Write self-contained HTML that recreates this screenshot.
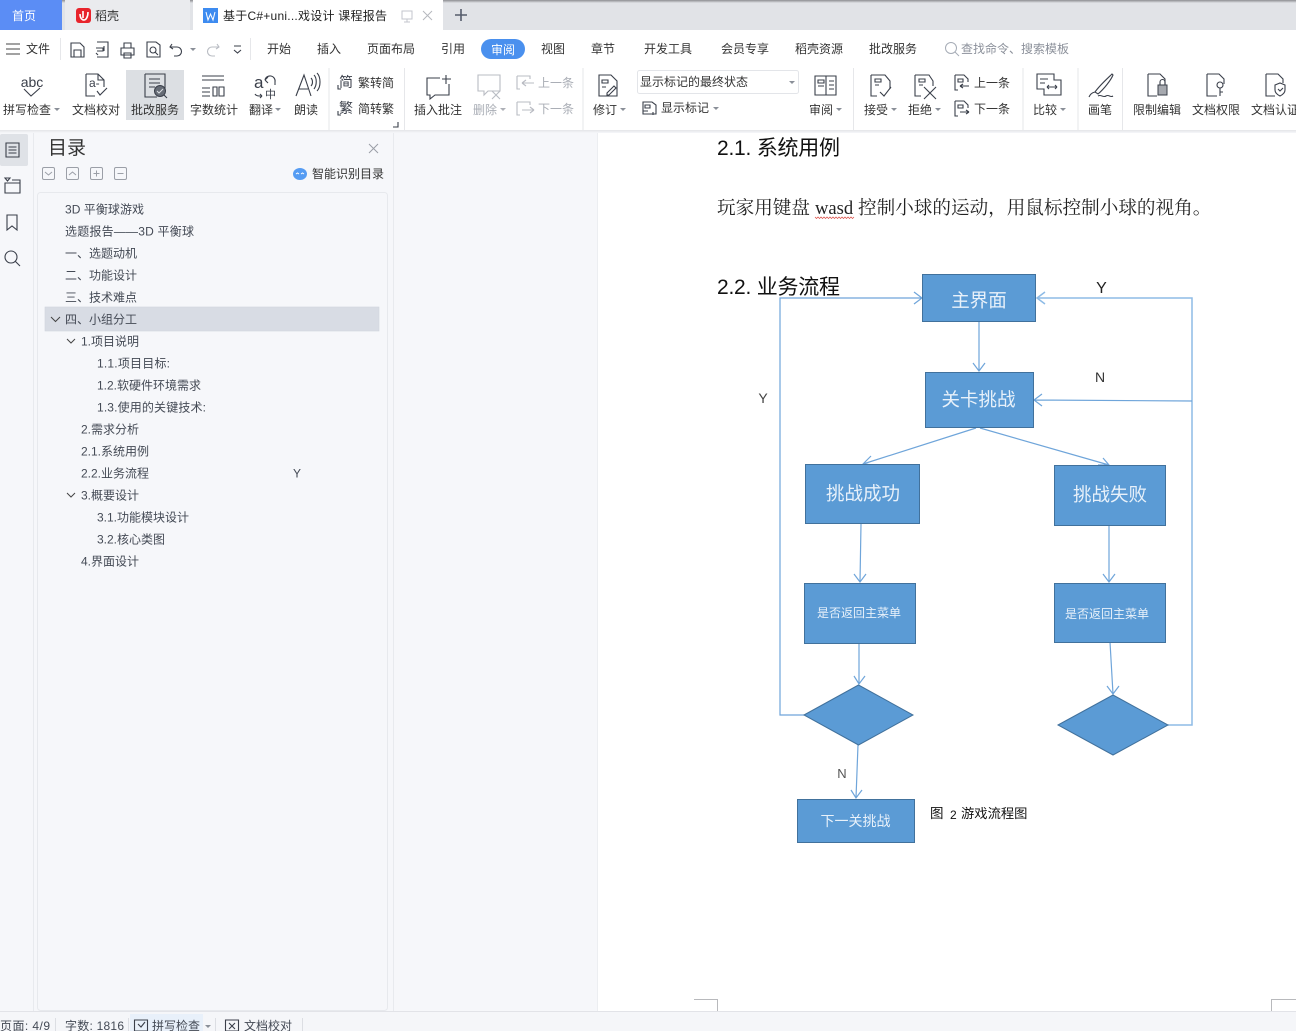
<!DOCTYPE html>
<html lang="zh"><head><meta charset="utf-8"><title>基于C#+unity游戏设计 课程报告</title>
<style>
html,body{margin:0;padding:0;width:1296px;height:1031px;overflow:hidden;background:#fff}
svg{display:block}
text{font-family:"Liberation Sans","Noto Sans CJK SC",sans-serif;font-size:12px;fill:#333}
.c{text-anchor:middle}
.g{fill:#a9adb5}
.i{fill:none;stroke:#3a3f4a;stroke-width:1.1}
.ig{fill:none;stroke:#b9bcc3;stroke-width:1.1}
.s{stroke:#e6e7ea;stroke-width:1}
.ca{fill:#8a8f98}
.toc{fill:#444a55}
.w{fill:#e8f1fa;font-size:20px}
.box{fill:#5b9bd5;stroke:#41719c;stroke-width:1}
.l{fill:none;stroke:#6fa5da;stroke-width:1.2}
.h{fill:#111;font-size:21px}
.b{fill:#222;font-family:"Noto Serif CJK SC","Liberation Serif",serif;font-size:18.6px}
</style></head><body>
<svg width="1296" height="1031" viewBox="0 0 1296 1031" xmlns="http://www.w3.org/2000/svg">
<defs>
<linearGradient id="top" x1="0" y1="0" x2="0" y2="1"><stop offset="0" stop-color="#8d8e92"/><stop offset="1" stop-color="#e1e3e7"/></linearGradient>
<linearGradient id="sh" x1="0" y1="0" x2="0" y2="1"><stop offset="0" stop-color="#e4e5e8"/><stop offset="1" stop-color="#f6f7fa"/></linearGradient>
</defs>
<!-- tab bar -->
<rect width="1296" height="30" fill="#e1e3e7"/>
<rect width="1296" height="3" fill="url(#top)"/>
<rect x="0" y="0" width="62" height="30" fill="#5b8df5"/>
<text x="12" y="20" fill="#fff" style="fill:#fff">首页</text>
<rect x="65" y="0" width="125" height="30" fill="#eaebee"/>
<rect x="76" y="8" width="15" height="15" rx="3" fill="#e8242c"/>
<path d="M83 11v7M80 14c0 4 2 6 4 6 2 0 4-3 4-8" fill="none" stroke="#fff" stroke-width="1.6"/>
<text x="95" y="20" fill="#555">稻壳</text>
<rect x="193" y="0" width="250" height="30" fill="#fff"/>
<rect x="203" y="8" width="15" height="15" fill="#3d8bf0"/>
<path d="M206 12l2 8 2.500-6 2.500 6 2-8" fill="none" stroke="#fff"/>
<text x="223" y="20" textLength="164" style="fill:#222">基于C#+uni...戏设计 课程报告</text>
<path d="M402 11h10v8h-10zM407 19v3M404 22h6" fill="none" stroke="#c3c6cc"/>
<path d="M423 11l9 9M432 11l-9 9" stroke="#b5b8be" fill="none"/>
<path d="M461 9v12M455 15h12" stroke="#555c6c" stroke-width="1.6" fill="none"/>
<!-- menu row -->
<rect y="30" width="1296" height="100" fill="#fff"/>
<path d="M6 44h14M6 49h14M6 54h14" stroke="#444" fill="none"/>
<text x="26" y="53">文件</text>
<path class="s" d="M60.500 38v22M250.500 38v22"/>
<path class="i" d="M71 43h9l4 4v10H71zM74 57v-7h7v7"/>
<path class="i" d="M97 42h11v15H97M96 48h7v3h-6M104 46v5M98 55l-2-2"/>
<path class="i" d="M121 48h13v7h-13zM124 48v-5h7v5M124 53h7v5h-7z"/>
<path class="i" d="M147 42h9l4 3v12h-13zM153 50m-3 0a3 3 0 1 0 6 0a3 3 0 1 0-6 0M155 52l3 3"/>
<path class="i" d="M172 44l-2 3 3 2M170 47h7a4 4 0 0 1 0 9h-3"/>
<path d="M190 48l3 3 3-3z" class="ca"/>
<path class="ig" d="M217 44l2 3-3 2M219 47h-7a4 4 0 0 0 0 9h3"/>
<path class="i" d="M234 46h7M234 50l3.500 3 3.500-3"/>
<text class="c" x="279" y="53">开始</text>
<text class="c" x="329" y="53">插入</text>
<text class="c" x="391" y="53">页面布局</text>
<text class="c" x="453" y="53">引用</text>
<rect x="481" y="39" width="44" height="20" rx="10" fill="#4a90ee"/>
<text class="c" x="503" y="54" style="fill:#fff">审阅</text>
<text class="c" x="553" y="53">视图</text>
<text class="c" x="603" y="53">章节</text>
<text class="c" x="668" y="53">开发工具</text>
<text class="c" x="745" y="53">会员专享</text>
<text class="c" x="819" y="53">稻壳资源</text>
<text class="c" x="893" y="53">批改服务</text>
<circle cx="951" cy="48" r="5.500" fill="none" stroke="#a6acb6"/><path d="M955 52l4 4" stroke="#a6acb6"/>
<text x="961" y="53" fill="#8b909a" style="fill:#8b909a">查找命令、搜索模板</text>
<!-- ribbon -->
<rect x="126" y="70" width="58" height="50" fill="#dcdfe3"/>
<path class="s" d="M329 68v62M404.500 68v62M583 68v62M853.500 68v62M1023 68v62M1078 68v62M1122.500 68v62"/>
<text class="c" x="32" y="87" style="font-size:14px;fill:#3a3f4a">abc</text>
<path class="i" d="M24 89l7 7 9-8"/>
<path class="i" d="M86 74h12l6 6v7M86 74v22h9M97 91l3 4 7-7M98 74v6h6"/>
<text x="89" y="87" style="font-size:12px;fill:#3a3f4a">a-</text>
<path class="i" d="M145 74h20v17M145 74v23h12M149 79h11M149 83h11M149 87h6"/>
<circle cx="160" cy="91" r="5.500" fill="#666c76" stroke="#3a3f4a"/><path d="M164 95l3 3" class="i"/><path d="M157 91l2 2 4-4" stroke="#dcdfe3" fill="none"/>
<path class="i" d="M202 76h22M202 80h22M202 88h8M202 92h8M202 96h8M213 87h4v9h-4zM219 87h5v9h-5z"/>
<text x="254" y="88" style="font-size:17px;fill:#3a3f4a">a</text>
<path class="i" d="M265 80a5 5 0 0 1 10 2v3M265 80l3-3M265 80l3 3M255 94c1 2 3 2 7 2M262 96l-2-2M262 96l-2 2"/>
<text x="265" y="98" style="font-size:11px;fill:#3a3f4a">中</text>
<path class="i" d="M296 96l8-21 7 21M299 89h9M311 78c2 2 2 6 0 8M314 75c3 3 3 10 0 14M317 73c4 4 4 14 0 18"/>
<text class="c" x="27" y="114">拼写检查</text><path class="ca" d="M54 108l3 3 3-3z"/>
<text class="c" x="96" y="114">文档校对</text>
<text class="c" x="155" y="114">批改服务</text>
<text class="c" x="214" y="114">字数统计</text>
<text class="c" x="261" y="114">翻译</text><path class="ca" d="M275 108l3 3 3-3z"/>
<text class="c" x="306" y="114">朗读</text>
<text x="339" y="87" style="font-size:14px;fill:#3a3f4a">简</text><path class="i" d="M338 85v4h3M338 111v4h3"/>
<text x="339" y="113" style="font-size:14px;fill:#3a3f4a">繁</text>
<text x="358" y="87" style="fill:#333">繁转简</text>
<text x="358" y="113" style="fill:#333">简转繁</text>
<path class="i" d="M393 127h5v-5" stroke-width=".8"/>
<path class="i" d="M440 78h-13v17h3v4l5-4h14V84M446 75v9M442 79h9"/>
<text class="c" x="438" y="114">插入批注</text>
<path class="ig" d="M478 75h22v16h-12l-4 4v-4h-6zM492 91l8 8M500 91l-8 8"/>
<text class="c" x="485" y="114" style="fill:#a9adb5">删除</text><path class="ca" d="M500 108l3 3 3-3z" opacity=".7"/>
<path class="ig" d="M517 76h13v3M517 76v13h3M534 83h-12M522 83l4-3M522 83l4 3"/>
<text x="538" y="87" style="fill:#a9adb5">上一条</text>
<path class="ig" d="M517 102h13v3M517 102v13h3M522 110h12M534 110l-4-3M534 110l-4 3"/>
<text x="538" y="113" style="fill:#a9adb5">下一条</text>
<path class="i" d="M599 75h12l6 6v15h-18zM602 80h6v3h-6zM602 87h4M607 93l7-7 2 2-7 7h-2z"/>
<text class="c" x="605" y="114">修订</text><path class="ca" d="M620 108l3 3 3-3z"/>
<rect x="637.500" y="70.500" width="161" height="23" rx="2" fill="#fff" stroke="#e3e5e9"/>
<text x="640" y="86" style="fill:#333">显示标记的最终状态</text>
<path class="ca" d="M789 81l3 3 3-3z"/>
<path class="i" d="M643 102h9l4 3v9h-13zM645 105h5v3h-5zM653 112v3M643 111h5"/>
<text x="661" y="112">显示标记</text><path class="ca" d="M713 107l3 3 3-3z"/>
<path class="i" d="M815 76h21v19h-21zM826 76v19M818 80h6v3h-6zM818 86h6M829 81h5M829 85h5M829 89h5"/>
<text class="c" x="821" y="114">审阅</text><path class="ca" d="M836 108l3 3 3-3z"/>
<path class="i" d="M871 75h14l5 6v8M871 75v21h6M875 79h6v3h-6zM875 85h4M880 92l4 4 7-9"/>
<text class="c" x="876" y="114">接受</text><path class="ca" d="M891 108l3 3 3-3z"/>
<path class="i" d="M915 75h14l4 6v5M915 75v21h6M919 79h6v3h-6zM919 85h4M924 87l12 12M936 87l-12 12"/>
<text class="c" x="920" y="114">拒绝</text><path class="ca" d="M935 108l3 3 3-3z"/>
<path class="i" d="M955 75h9l4 4v3M955 75v15h3M958 79h5v3h-5zM969 86h-9M960 86l3-2M960 86l3 2"/>
<text x="974" y="87">上一条</text>
<path class="i" d="M955 101h9l4 4v3M955 101v15h3M958 105h5v3h-5zM960 112h9M969 112l-3-2M969 112l-3 2"/>
<text x="974" y="113">下一条</text>
<path class="i" d="M1037 74h17v6h7v15h-17v-6h-7zM1040 79h8M1040 83h5M1047 87h10M1047 87l2-2M1047 87l2 2M1057 87l-2-2M1057 87l-2 2"/>
<text class="c" x="1045" y="114">比较</text><path class="ca" d="M1060 108l3 3 3-3z"/>
<path class="i" d="M1112 74c-4 4-12 11-17 18l3 2c6-5 13-14 15-19zM1095 92c-4 1-5 3-6 5M1098 96c3-2 5 2 8 0s4 2 7 0" stroke="#666"/>
<text class="c" x="1100" y="114">画笔</text>
<path class="i" d="M1148 74h12l5 5v5M1148 74v22h9"/><rect x="1158" y="85" width="9" height="10" fill="#a6a9af" stroke="#3a3f4a"/><path class="i" d="M1160 85v-3a2.500 2.500 0 0 1 5 0v3"/>
<text class="c" x="1157" y="114">限制编辑</text>
<path class="i" d="M1207 74h12l5 5v5M1207 74v22h10"/><circle cx="1220" cy="85" r="3" class="i"/><path class="i" d="M1220 88v8M1220 92h3"/>
<text class="c" x="1216" y="114">文档权限</text>
<path class="i" d="M1266 74h12l5 5v4M1266 74v22h9M1275 85l5-2 5 2v5c0 3-3 5-5 6-2-1-5-3-5-6zM1278 89l2 2 3-3"/>
<text x="1251" y="114">文档认证</text>
<!-- body background -->
<rect y="130" width="598" height="881" fill="#f6f7fa"/>
<rect y="130" width="1296" height="3" fill="url(#sh)"/>
<rect x="598" y="133" width="698" height="878" fill="#fff"/>
<path d="M597.500 133v878" stroke="#eceef1"/>
<path d="M33.500 133v878M393.500 133v878" stroke="#e8eaee"/>
<!-- left rail -->
<rect x="0" y="134" width="28" height="32" rx="2" fill="#dfe2e7"/>
<path class="i" d="M6 143h13v14H6zM8.500 147h8M8.500 150h8M8.500 153h8"/>
<path class="i" d="M5 178h5l-2.500 3zM5 183h15v10H5zM12 180h8v3"/>
<path class="i" d="M7 215h10v15l-5-4-5 4z"/>
<circle cx="11" cy="257" r="6" class="i"/><path class="i" d="M15 261l5 5"/>
<!-- panel head -->
<text x="48" y="154" style="font-size:19px;fill:#333">目录</text>
<path d="M369 144l9 9M378 144l-9 9" stroke="#9a9ea6" fill="none"/>
<g fill="none" stroke="#9b9fa7">
<rect x="42.500" y="167.500" width="12" height="12" rx="1.500"/><path d="M45 172l3.500 3 3.500-3"/>
<rect x="66.500" y="167.500" width="12" height="12" rx="1.500"/><path d="M69 175l3.500-3 3.500 3"/>
<rect x="90.500" y="167.500" width="12" height="12" rx="1.500"/><path d="M93.500 173.500h6M96.500 170.500v6"/>
<rect x="114.500" y="167.500" width="12" height="12" rx="1.500"/><path d="M117.500 173.500h6"/>
</g>
<ellipse cx="300" cy="174" rx="7" ry="6" fill="#559cf3"/><path d="M296 174l1.500-1 1.500 1M301 174l1.500-1 1.500 1" stroke="#fff" fill="none"/>
<text x="312" y="178" style="fill:#333">智能识别目录</text>
<rect x="37.500" y="192.500" width="350" height="818" rx="3" fill="#f6f7fa" stroke="#e7e9ed"/>
<rect x="45" y="307" width="334" height="24" fill="#d8dce4" stroke="#d0d5dd" stroke-width=".6"/>
<path d="M51 317l4.500 4.500 4.500-4.500M67 339l4 4 4-4M67 493l4 4 4-4" fill="none" stroke="#444"/>
<text class="toc" x="65" y="213.500" textLength="79">3D 平衡球游戏</text>
<text class="toc" x="65" y="235.500" textLength="129">选题报告——3D 平衡球</text>
<text class="toc" x="65" y="257.500">一、选题动机</text>
<text class="toc" x="65" y="279.500">二、功能设计</text>
<text class="toc" x="65" y="301.500">三、技术难点</text>
<text class="toc" x="65" y="323.500">四、小组分工</text>
<text class="toc" x="81" y="345.500">1.项目说明</text>
<text class="toc" x="97" y="367.500" textLength="73">1.1.项目目标:</text>
<text class="toc" x="97" y="389.500">1.2.软硬件环境需求</text>
<text class="toc" x="97" y="411.500" textLength="109">1.3.使用的关键技术:</text>
<text class="toc" x="81" y="433.500">2.需求分析</text>
<text class="toc" x="81" y="455.500">2.1.系统用例</text>
<text class="toc" x="81" y="477.500">2.2.业务流程</text>
<text class="toc" x="293" y="477.500">Y</text>
<text class="toc" x="81" y="499.500">3.概要设计</text>
<text class="toc" x="97" y="521.500">3.1.功能模块设计</text>
<text class="toc" x="97" y="543.500">3.2.核心类图</text>
<text class="toc" x="81" y="565.500">4.界面设计</text>
<!-- document -->
<text class="h" x="717" y="155" textLength="123">2.1. 系统用例</text>
<text class="b" x="717" y="214">玩家用键盘</text>
<text class="b" x="815" y="214" style="font-family:'Liberation Serif',serif">wasd</text>
<path d="M815 217l1.500 1.500 1.500-1.500 1.500 1.500 1.500-1.500 1.500 1.500 1.500-1.500 1.500 1.500 1.500-1.500 1.500 1.500 1.500-1.500 1.500 1.500 1.500-1.500 1.500 1.500 1.500-1.500 1.500 1.500 1.500-1.500 1.500 1.500 1.500-1.500 1.500 1.500 1.500-1.500 1.500 1.500 1.500-1.500 1.500 1.500 1.500-1.500 1.500 1.500 1.500-1.500" fill="none" stroke="#d9423a" stroke-width=".7"/>
<text class="b" x="858" y="214">控制小球的运动，用鼠标控制小球的视角。</text>
<text class="h" x="717" y="294" textLength="123">2.2. 业务流程</text>
<!-- connectors -->
<path class="l" d="M804 715H780V298H921M914 292l8 6-8 6"/>
<path class="l" d="M1168 725h24V298H1037M1045 292l-8 6 8 6" style="stroke:#8dbbe6;stroke-width:1.500"/>
<path class="l" d="M1192 401l-158-1M1042 394l-8 6 8 6"/>
<path class="l" d="M979 322v49M973 363l6 8 6-8"/>
<path class="l" d="M976 428l-113 36M871 456l-8 8 11 1"/>
<path class="l" d="M980 428l129 37M1098 465l11 0-6-7"/>
<path class="l" d="M861 524l-1 58M854 574l6 8 6-8"/>
<path class="l" d="M1109 526v56M1103 574l6 8 6-8"/>
<path class="l" d="M859 643v41M854 676l5 8 6-8"/>
<path class="l" d="M1110 642l3 52M1107 686l6 8 6-8"/>
<path class="l" d="M858 745l-2 53M851 790l5 8 6-8"/>
<!-- nodes -->
<rect class="box" x="922.500" y="274.500" width="113" height="47"/>
<rect class="box" x="925.500" y="372.500" width="108" height="55"/>
<rect class="box" x="805.500" y="464.500" width="114" height="59"/>
<rect class="box" x="1054.500" y="465.500" width="111" height="60"/>
<rect class="box" x="804.500" y="583.500" width="111" height="60"/>
<rect class="box" x="1054.500" y="583.500" width="111" height="59"/>
<path class="box" d="M804 715l54.500-30 54.500 30-54.500 30z"/>
<path class="box" d="M1058 725l55-30 55 30-55 30z"/>
<rect class="box" x="797.500" y="799.500" width="117" height="43"/>
<text class="w c" x="979" y="307" style="font-size:18.500px">主界面</text>
<text class="w c" x="978.500" y="406" style="font-size:18.500px">关卡挑战</text>
<text class="w c" x="863" y="500" style="font-size:18.500px">挑战成功</text>
<text class="w c" x="1110" y="501" style="font-size:18.500px">挑战失败</text>
<text class="w c" x="859" y="617" style="font-size:12px">是否返回主菜单</text>
<text class="w c" x="1107" y="618" style="font-size:12px">是否返回主菜单</text>
<text class="w c" x="855.500" y="826" style="font-size:14px">下一关挑战</text>
<!-- labels -->
<text class="c" x="1101.500" y="293" style="font-size:16px;fill:#222">Y</text>
<text class="c" x="1100" y="382" style="font-size:14px;fill:#333">N</text>
<text class="c" x="763" y="403" style="font-size:14px;fill:#444">Y</text>
<text class="c" x="842" y="778" style="font-size:13px;fill:#555">N</text>
<text x="930" y="818" style="font-size:13.500px;fill:#111">图</text>
<text x="950" y="819" style="font-size:12px;fill:#111">2</text>
<text x="961" y="818" style="font-size:13.300px;fill:#111">游戏流程图</text>
<!-- page corners -->
<path d="M694 999.500h23.500V1011M1296 999.500h-24.500V1011" fill="none" stroke="#b8b9bc"/>
<!-- status bar -->
<rect y="1011" width="1296" height="20" fill="#f5f6f9"/>
<path d="M0 1011.500h1296" stroke="#e2e3e8"/>
<rect x="130" y="1014" width="73" height="17" fill="#e8f0fa"/>
<path class="s" d="M55.500 1018v13M128.500 1018v13M215.500 1018v13M302.500 1018v13" style="stroke:#dcdee3"/>
<text x="0" y="1030" textLength="50" style="fill:#444a55">页面: 4/9</text>
<text x="65" y="1030" textLength="59" style="fill:#444a55">字数: 1816</text>
<path class="i" d="M134.500 1020h13v11h-13zM138 1024l3 3 4-5"/>
<text x="152" y="1030" style="fill:#444a55">拼写检查</text>
<path class="ca" d="M205 1025l3 3 3-3z"/>
<path class="i" d="M225.500 1020h13v11h-13zM229 1023l6 6M235 1023l-6 6"/>
<text x="244" y="1030" style="fill:#444a55">文档校对</text>
</svg>
</body></html>
